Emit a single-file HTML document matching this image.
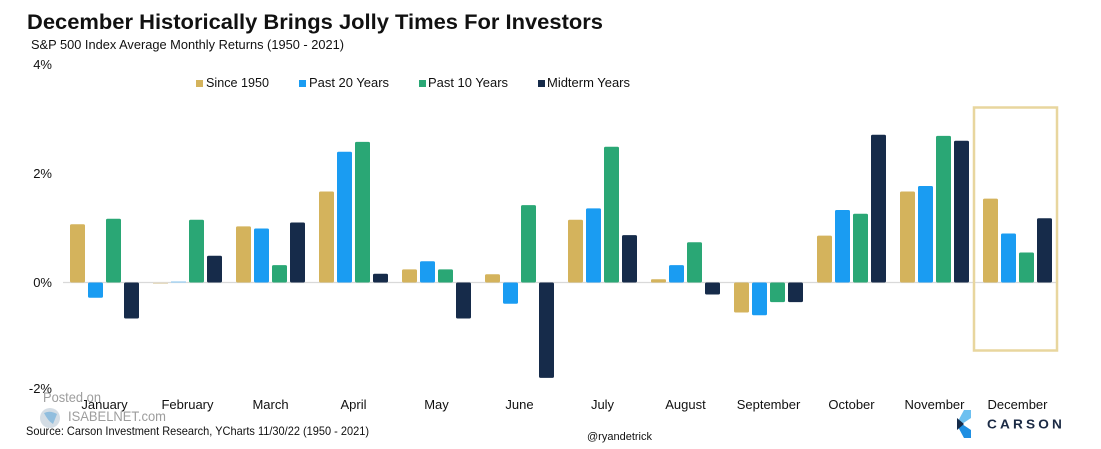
<!DOCTYPE html>
<html>
<head>
<meta charset="utf-8">
<style>
  html,body{margin:0;padding:0;background:#fff;}
  body{width:1101px;height:449px;overflow:hidden;}
  svg{display:block;}
  text{font-family:"Liberation Sans", Arial, sans-serif;}
</style>
</head>
<body>
<svg width="1101" height="449" viewBox="0 0 1101 449" xmlns="http://www.w3.org/2000/svg">
  <rect x="0" y="0" width="1101" height="449" fill="#ffffff"/>

  <!-- Title -->
  <text x="27" y="29" font-size="21" font-weight="bold" fill="#111" textLength="576" lengthAdjust="spacingAndGlyphs">December Historically Brings Jolly Times For Investors</text>
  <text x="31" y="49" font-size="13" fill="#111" textLength="313" lengthAdjust="spacingAndGlyphs">S&amp;P 500 Index Average Monthly Returns (1950 - 2021)</text>

  <!-- Y axis labels -->
  <g font-size="13" fill="#111" text-anchor="end">
    <text x="52" y="69">4%</text>
    <text x="52" y="178">2%</text>
    <text x="52" y="287">0%</text>
    <text x="52" y="393">-2%</text>
  </g>

  <!-- Legend -->
  <g font-size="13" fill="#111">
    <rect x="196" y="80" width="7" height="7" fill="#d4b35c"/>
    <text x="206" y="87" textLength="63" lengthAdjust="spacingAndGlyphs">Since 1950</text>
    <rect x="299" y="80" width="7" height="7" fill="#1a9cf2"/>
    <text x="309" y="87" textLength="80" lengthAdjust="spacingAndGlyphs">Past 20 Years</text>
    <rect x="419" y="80" width="7" height="7" fill="#2aa775"/>
    <text x="428" y="87" textLength="80" lengthAdjust="spacingAndGlyphs">Past 10 Years</text>
    <rect x="538" y="80" width="7" height="7" fill="#162b4a"/>
    <text x="547" y="87" textLength="83" lengthAdjust="spacingAndGlyphs">Midterm Years</text>
  </g>

  <!-- Zero line -->
  <line x1="63" y1="282.5" x2="1057" y2="282.5" stroke="#d9d9d9" stroke-width="1.2"/>

  <!-- Bars -->
  <g>
    <!-- Jan x0=70 -->
    <rect x="70" y="224.2" width="15" height="58.3" rx="1.5" fill="#d4b35c"/>
    <rect x="88" y="282.5" width="15" height="15.3" rx="1.5" fill="#1a9cf2"/>
    <rect x="106" y="218.7" width="15" height="63.8" rx="1.5" fill="#2aa775"/>
    <rect x="124" y="282.5" width="15" height="36" rx="1.5" fill="#162b4a"/>
    <!-- Feb x0=153 -->
    <rect x="153" y="282.5" width="15" height="1.5" fill="#e6dcc2"/>
    <rect x="171" y="281.3" width="15" height="1.5" fill="#a9d4f2"/>
    <rect x="189" y="219.8" width="15" height="62.7" rx="1.5" fill="#2aa775"/>
    <rect x="207" y="255.8" width="15" height="26.7" rx="1.5" fill="#162b4a"/>
    <!-- Mar x0=236 -->
    <rect x="236" y="226.4" width="15" height="56.1" rx="1.5" fill="#d4b35c"/>
    <rect x="254" y="228.5" width="15" height="54" rx="1.5" fill="#1a9cf2"/>
    <rect x="272" y="265.1" width="15" height="17.4" rx="1.5" fill="#2aa775"/>
    <rect x="290" y="222.5" width="15" height="60" rx="1.5" fill="#162b4a"/>
    <!-- Apr x0=319 -->
    <rect x="319" y="191.5" width="15" height="91" rx="1.5" fill="#d4b35c"/>
    <rect x="337" y="151.7" width="15" height="130.8" rx="1.5" fill="#1a9cf2"/>
    <rect x="355" y="141.9" width="15" height="140.6" rx="1.5" fill="#2aa775"/>
    <rect x="373" y="273.8" width="15" height="8.7" rx="1.5" fill="#162b4a"/>
    <!-- May x0=402 -->
    <rect x="402" y="269.4" width="15" height="13.1" rx="1.5" fill="#d4b35c"/>
    <rect x="420" y="261.2" width="15" height="21.3" rx="1.5" fill="#1a9cf2"/>
    <rect x="438" y="269.4" width="15" height="13.1" rx="1.5" fill="#2aa775"/>
    <rect x="456" y="282.5" width="15" height="36" rx="1.5" fill="#162b4a"/>
    <!-- Jun x0=485 -->
    <rect x="485" y="274.3" width="15" height="8.2" rx="1.5" fill="#d4b35c"/>
    <rect x="503" y="282.5" width="15" height="21.3" rx="1.5" fill="#1a9cf2"/>
    <rect x="521" y="205.1" width="15" height="77.4" rx="1.5" fill="#2aa775"/>
    <rect x="539" y="282.5" width="15" height="95.4" rx="1.5" fill="#162b4a"/>
    <!-- Jul x0=568 -->
    <rect x="568" y="219.8" width="15" height="62.7" rx="1.5" fill="#d4b35c"/>
    <rect x="586" y="208.4" width="15" height="74.1" rx="1.5" fill="#1a9cf2"/>
    <rect x="604" y="146.8" width="15" height="135.7" rx="1.5" fill="#2aa775"/>
    <rect x="622" y="235.1" width="15" height="47.4" rx="1.5" fill="#162b4a"/>
    <!-- Aug x0=651 -->
    <rect x="651" y="279.2" width="15" height="3.3" rx="1" fill="#d4b35c"/>
    <rect x="669" y="265.1" width="15" height="17.4" rx="1.5" fill="#1a9cf2"/>
    <rect x="687" y="242.2" width="15" height="40.3" rx="1.5" fill="#2aa775"/>
    <rect x="705" y="282.5" width="15" height="12" rx="1.5" fill="#162b4a"/>
    <!-- Sep x0=734 -->
    <rect x="734" y="282.5" width="15" height="30" rx="1.5" fill="#d4b35c"/>
    <rect x="752" y="282.5" width="15" height="32.7" rx="1.5" fill="#1a9cf2"/>
    <rect x="770" y="282.5" width="15" height="19.6" rx="1.5" fill="#2aa775"/>
    <rect x="788" y="282.5" width="15" height="19.6" rx="1.5" fill="#162b4a"/>
    <!-- Oct x0=817 -->
    <rect x="817" y="235.6" width="15" height="46.9" rx="1.5" fill="#d4b35c"/>
    <rect x="835" y="210" width="15" height="72.5" rx="1.5" fill="#1a9cf2"/>
    <rect x="853" y="213.8" width="15" height="68.7" rx="1.5" fill="#2aa775"/>
    <rect x="871" y="134.8" width="15" height="147.7" rx="1.5" fill="#162b4a"/>
    <!-- Nov x0=900 -->
    <rect x="900" y="191.5" width="15" height="91" rx="1.5" fill="#d4b35c"/>
    <rect x="918" y="186" width="15" height="96.5" rx="1.5" fill="#1a9cf2"/>
    <rect x="936" y="135.9" width="15" height="146.6" rx="1.5" fill="#2aa775"/>
    <rect x="954" y="140.8" width="15" height="141.7" rx="1.5" fill="#162b4a"/>
    <!-- Dec x0=983 -->
    <rect x="983" y="198.6" width="15" height="83.9" rx="1.5" fill="#d4b35c"/>
    <rect x="1001" y="233.5" width="15" height="49" rx="1.5" fill="#1a9cf2"/>
    <rect x="1019" y="252.5" width="15" height="30" rx="1.5" fill="#2aa775"/>
    <rect x="1037" y="218.2" width="15" height="64.3" rx="1.5" fill="#162b4a"/>
  </g>

  <!-- December highlight box -->
  <rect x="974" y="107.5" width="83" height="243" fill="none" stroke="#e8d69e" stroke-width="2.5"/>

  <!-- Month labels -->
  <g font-size="13" fill="#111" text-anchor="middle">
    <text x="104.5" y="409">January</text>
    <text x="187.5" y="409">February</text>
    <text x="270.5" y="409">March</text>
    <text x="353.5" y="409">April</text>
    <text x="436.5" y="409">May</text>
    <text x="519.5" y="409">June</text>
    <text x="602.5" y="409">July</text>
    <text x="685.5" y="409">August</text>
    <text x="768.5" y="409">September</text>
    <text x="851.5" y="409">October</text>
    <text x="934.5" y="409">November</text>
    <text x="1017.5" y="409">December</text>
  </g>

  <!-- Watermark -->
  <text x="43" y="402" font-size="14" fill="#8c8c8c" fill-opacity="0.85" textLength="58" lengthAdjust="spacingAndGlyphs">Posted on</text>
  <circle cx="50" cy="418" r="10" fill="#c9d4de" fill-opacity="0.8"/>
  <path d="M44 413 Q50 410 57 414 L53 424 Q48 421 44 413 Z" fill="#7fb6dc" fill-opacity="0.8"/>
  <text x="68" y="421" font-size="14" fill="#8c8c8c" fill-opacity="0.85" textLength="98" lengthAdjust="spacingAndGlyphs">ISABELNET.com</text>

  <!-- Footer -->
  <text x="26" y="435" font-size="12" fill="#111" textLength="343" lengthAdjust="spacingAndGlyphs">Source: Carson Investment Research, YCharts 11/30/22 (1950 - 2021)</text>
  <text x="587" y="440" font-size="11" fill="#111" textLength="65" lengthAdjust="spacingAndGlyphs">@ryandetrick</text>

  <!-- Carson logo -->
  <polygon points="964,410 971,410 971,418 962,424 957,424 957,423" fill="#6dc0f0"/>
  <polygon points="957,424 962,424 971,430 971,438 964,438 957,425" fill="#1f8fe2"/>
  <polygon points="957,418 964,424 957,430" fill="#162b4a"/>
  <text x="987" y="428.5" font-size="13" font-weight="bold" fill="#1b2a44" textLength="78" lengthAdjust="spacingAndGlyphs" letter-spacing="3">CARSON</text>
</svg>
</body>
</html>
